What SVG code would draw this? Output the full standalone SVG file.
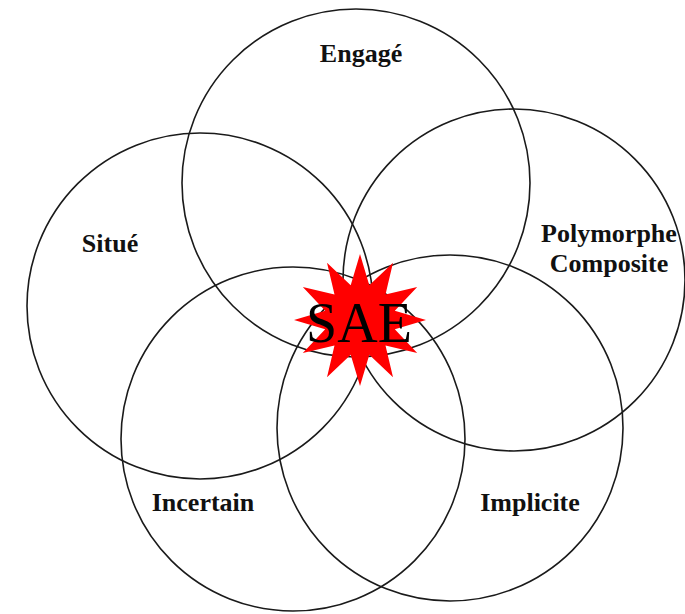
<svg xmlns="http://www.w3.org/2000/svg" width="685" height="614" viewBox="0 0 685 614">
<style>
.c{fill:none;stroke:#1a1a1a;stroke-width:1.6}
.lbl{font-family:"Liberation Serif","Times New Roman",serif;font-weight:bold;font-size:26px;fill:#111;text-anchor:middle}
.sae{font-family:"Liberation Serif","Times New Roman",serif;font-size:56px;fill:#000;text-anchor:middle}
</style>
<rect width="685" height="614" fill="#fff"/>
<g id="engage"><circle class="c" cx="356" cy="183" r="174"/><text class="lbl" x="361" y="62">Engagé</text></g>
<g id="situe"><circle class="c" cx="200" cy="306" r="173"/><text class="lbl" x="110" y="252">Situé</text></g>
<g id="polymorphe"><circle class="c" cx="514" cy="280" r="171"/><text class="lbl" x="609" y="242">Polymorphe</text><text class="lbl" x="609" y="272">Composite</text></g>
<g id="incertain"><circle class="c" cx="293" cy="439" r="172"/><text class="lbl" x="203" y="511">Incertain</text></g>
<g id="implicite"><circle class="c" cx="450" cy="428" r="173"/><text class="lbl" x="530" y="511">Implicite</text></g>
<g id="sae">
<polygon fill="#f00" points="360,254 369.3,285.2 393,262.8 385.5,294.5 417.2,287 394.8,310.7 426,320 394.8,329.3 417.2,353 385.5,345.5 393,377.2 369.3,354.8 360,386 350.7,354.8 327,377.2 334.5,345.5 302.8,353 325.2,329.3 294,320 325.2,310.7 302.8,287 334.5,294.5 327,262.8 350.7,285.2"/>
<text class="sae" x="359" y="342">SAE</text>
</g>
<g id="connectors"></g>
</svg>
